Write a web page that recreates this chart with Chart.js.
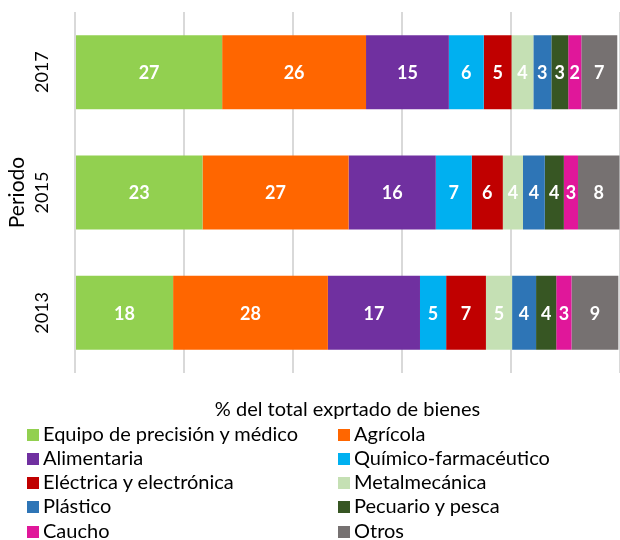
<!DOCTYPE html>
<html>
<head>
<meta charset="utf-8">
<script src="https://cdn.jsdelivr.net/npm/chart.js@4/dist/chart.umd.min.js"></script>
<style>
  html, body { margin: 0; padding: 0; background: #ffffff; }
  #wrap { position: relative; width: 620px; height: 540px; overflow: hidden; }
  #c { position: absolute; left: 0; top: 0; }
  #legend { position: absolute; left: 27px; top: 420.5px; width: 593px;
    display: grid; grid-template-columns: 311px 282px; grid-auto-rows: 24.25px;
    font-family: Lato, sans-serif; font-size: 20px; line-height: 24.25px; color: #000; }
  .item { display: flex; align-items: center; white-space: nowrap; }
  .box { width: 12px; height: 12px; margin-right: 4px; flex: none; position: relative; top: 2px; }
</style>
</head>
<body>
<div id="wrap">
  <canvas id="c" width="620" height="425"></canvas>
  <div id="legend"></div>
</div>
<script>
const categories = ['2017', '2015', '2013'];
const seriesNames = ['Equipo de precisión y médico', 'Agrícola', 'Alimentaria', 'Químico-farmacéutico',
  'Eléctrica y electrónica', 'Metalmecánica', 'Plástico', 'Pecuario y pesca', 'Caucho', 'Otros'];
const equipo      = [27.0, 23.4, 18.0];
const agricola    = [26.4, 26.8, 28.4];
const alimentaria = [15.2, 16.0, 16.9];
const quimico     = [6.4, 6.6, 4.8];
const electrica   = [5.1, 5.7, 7.3];
const metal       = [4.0, 3.7, 4.8];
const plastico    = [3.3, 4.0, 4.4];
const pecuario    = [3.1, 3.5, 3.7];
const caucho      = [2.4, 2.6, 2.8];
const otros       = [6.6, 7.6, 8.6];
const xTicks = [0, 20, 40, 60, 80, 100];

const seriesValues = [equipo, agricola, alimentaria, quimico, electrica, metal, plastico, pecuario, caucho, otros];
const seriesColors = ['#92D050', '#FF6600', '#7030A0', '#00B0F0', '#C00000', '#C5E0B4', '#2E75B6', '#375623', '#E0179A', '#767171'];

const FONT = 'Lato, sans-serif';

const barLabels = {
  id: 'barLabels',
  afterDatasetsDraw(chart) {
    const ctx = chart.ctx;
    ctx.save();
    ctx.font = 'bold 18px ' + FONT;
    ctx.fillStyle = '#ffffff';
    ctx.textAlign = 'center';
    ctx.textBaseline = 'middle';
    chart.data.datasets.forEach((ds, i) => {
      const meta = chart.getDatasetMeta(i);
      meta.data.forEach((el, j) => {
        const p = el.getCenterPoint();
        ctx.fillText(String(Math.round(ds.data[j])), p.x, p.y + 1);
      });
    });
    ctx.restore();
  }
};

const chart = new Chart(document.getElementById('c'), {
  type: 'bar',
  data: {
    labels: categories,
    datasets: seriesNames.map((name, i) => ({
      label: name,
      data: seriesValues[i],
      backgroundColor: seriesColors[i],
      borderWidth: 0,
      categoryPercentage: 1,
      barPercentage: 0.615
    }))
  },
  options: {
    indexAxis: 'y',
    responsive: false,
    animation: false,
    layout: { padding: { top: 12, left: 0, right: 0, bottom: 0 } },
    plugins: { legend: { display: false }, tooltip: { enabled: false } },
    scales: {
      x: {
        stacked: true, min: 0, max: 100,
        afterBuildTicks(s) { s.ticks = xTicks.map(v => ({ value: v })); },
        ticks: { display: false },
        grid: { color: '#D9D9D9', lineWidth: 2, drawTicks: false },
        border: { display: false },
        title: { display: true, text: '% del total exprtado de bienes', color: '#000',
          font: { family: FONT, size: 20 }, padding: { top: 0, bottom: 3 } },
        afterFit(s) { s.height = 52; s.paddingLeft = 0; s.paddingRight = 0; }
      },
      y: {
        stacked: true,
        grid: { display: false, drawTicks: false },
        border: { display: false },
        ticks: { minRotation: 90, maxRotation: 90, crossAlign: 'center', padding: 12,
          color: '#000', font: { family: FONT, size: 18 } },
        title: { display: true, text: 'Periodo', color: '#000',
          font: { family: FONT, size: 21 }, padding: { top: 5, bottom: 0 } },
        afterFit(s) { s.width = 75; s.paddingTop = 0; s.paddingBottom = 0; }
      }
    }
  },
  plugins: [barLabels]
});

const legendEl = document.getElementById('legend');
chart.data.datasets.forEach(ds => {
  const item = document.createElement('div');
  item.className = 'item';
  const box = document.createElement('span');
  box.className = 'box';
  box.style.background = ds.backgroundColor;
  const txt = document.createElement('span');
  txt.textContent = ds.label;
  item.appendChild(box);
  item.appendChild(txt);
  legendEl.appendChild(item);
});
</script>
</body>
</html>
